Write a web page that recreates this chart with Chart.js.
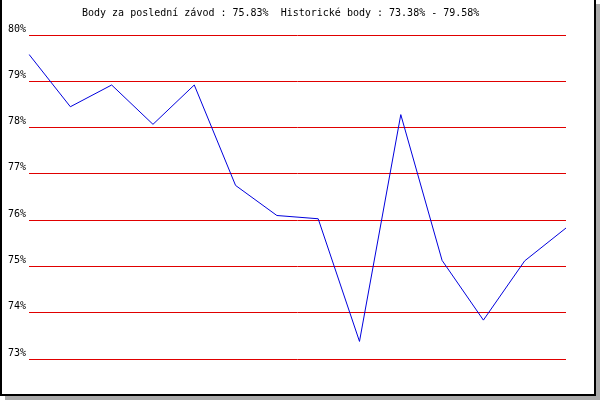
<!DOCTYPE html>
<html>
<head>
<meta charset="utf-8">
<script src="https://cdn.jsdelivr.net/npm/chart.js@4"></script>
<style>
html,body{margin:0;padding:0;background:#fff;}
canvas{display:block;}
</style>
</head>
<body>
<canvas id="c" width="600" height="400"></canvas>
<script>
const raceLabels = ['1','2','3','4','5','6','7','8','9','10','11','12','13','14'];
const points = [79.58, 78.45, 78.92, 78.07, 78.92, 76.75, 76.10, 76.03, 73.38, 78.28, 75.13, 73.84, 75.12, 75.83];
const yTicks = [73, 74, 75, 76, 77, 78, 79, 80];
const titleText = 'Body za poslední závod : 75.83%  Historické body : 73.38% - 79.58%';

const framePlugin = {
  id: 'frame',
  beforeDraw(chart) {
    const ctx = chart.ctx;
    ctx.save();
    ctx.fillStyle = '#ffffff';
    ctx.fillRect(0, 0, 600, 400);
    ctx.fillStyle = '#aaaaaa';
    ctx.fillRect(596, 4, 4, 396);
    ctx.fillRect(5, 396, 595, 4);
    ctx.fillStyle = '#000000';
    ctx.fillRect(0, 0, 2, 396);
    ctx.fillRect(594, 0, 2, 396);
    ctx.fillRect(0, 394, 596, 2);
    ctx.restore();
  },
  afterDraw(chart) {
    const ctx = chart.ctx;
    ctx.save();
    ctx.fillStyle = '#000000';
    ctx.font = '10px "DejaVu Sans Mono", monospace';
    ctx.textBaseline = 'middle';
    ctx.textAlign = 'left';
    ctx.fillText(titleText, 82, 13);
    ctx.restore();
  }
};

new Chart(document.getElementById('c'), {
  type: 'line',
  data: {
    labels: raceLabels,
    datasets: [{
      data: points,
      borderColor: '#0000dd',
      borderWidth: 1,
      pointRadius: 0,
      tension: 0,
      fill: false
    }]
  },
  options: {
    responsive: false,
    animation: false,
    devicePixelRatio: 1,
    layout: { padding: { left: 5, right: 34, top: 35, bottom: 41 } },
    plugins: { legend: { display: false }, tooltip: { enabled: false }, title: { display: false } },
    scales: {
      x: { type: 'category', display: false, offset: false },
      y: {
        min: 73, max: 80,
        afterBuildTicks(scale) { scale.ticks = yTicks.map(v => ({ value: v })); },
        border: { display: false },
        grid: { color: '#e00000', lineWidth: 1, drawTicks: false },
        ticks: {
          padding: 3,
          labelOffset: -6,
          color: '#000000',
          font: { family: '"DejaVu Sans Mono", monospace', size: 10 },
          callback: v => v + '%'
        }
      }
    }
  },
  plugins: [framePlugin]
});
</script>
</body>
</html>
